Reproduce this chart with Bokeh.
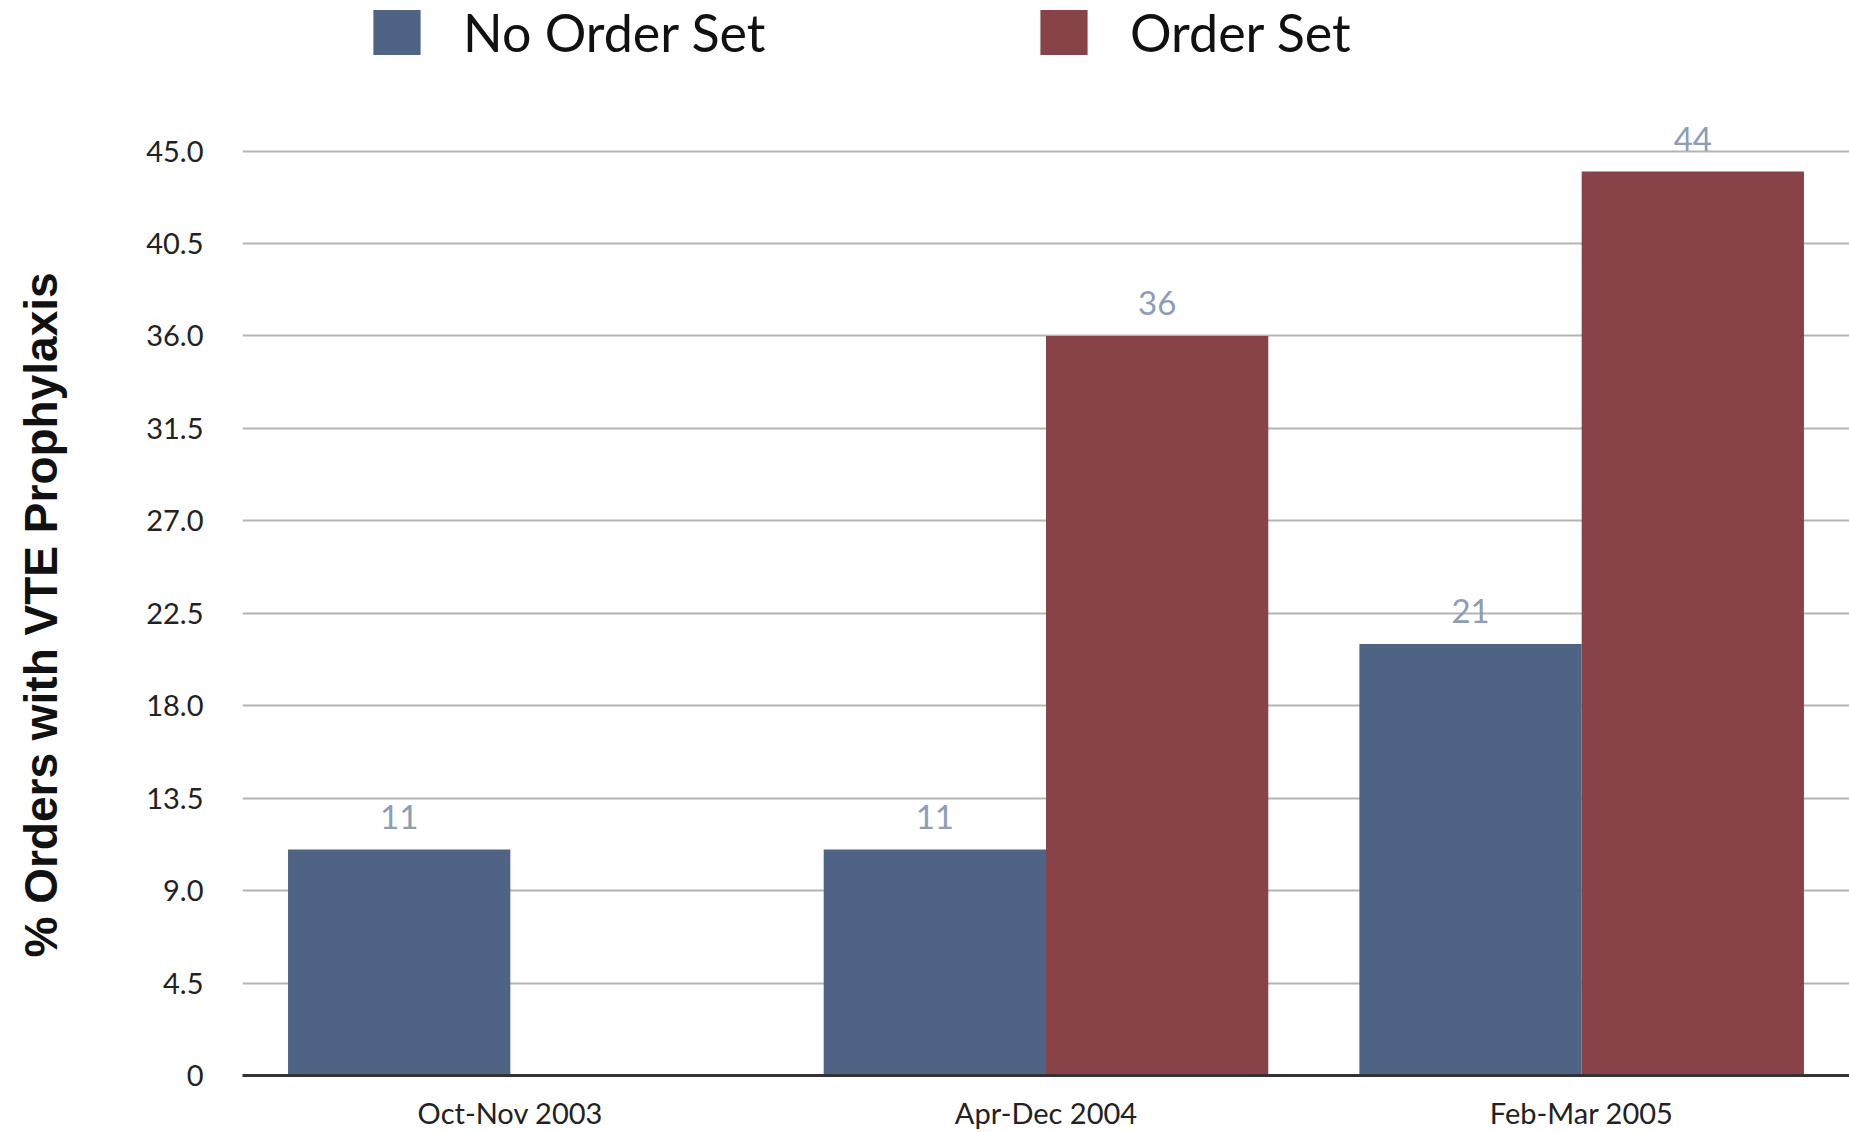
from bokeh.plotting import figure
from bokeh.models import (ColumnDataSource, FactorRange, Range1d, FixedTicker,
                          Legend, LegendItem, LabelSet, Title, LinearAxis)
from bokeh.transform import dodge
from bokeh.core.properties import value
from bokeh.embed import file_html
from bokeh.resources import INLINE

# ---- data ----
categories = ["Oct-Nov 2003", "Apr-Dec 2004", "Feb-Mar 2005"]
series_names = ["No Order Set", "Order Set"]
no_order_set = [11, 11, 21]
order_set = [None, 36, 44]
y_ticks = [0, 4.5, 9.0, 13.5, 18.0, 22.5, 27.0, 31.5, 36.0, 40.5, 45.0]
y_tick_labels = ["0", "4.5", "9.0", "13.5", "18.0", "22.5", "27.0", "31.5", "36.0", "40.5", "45.0"]
y_title = "% Orders with VTE Prophylaxis"

BLUE = "#4f6484"
RED = "#884349"
FONT = "Lato"

W, H = 1849, 1132
BOTTOM = 53
frame_h = H - BOTTOM
px_per_unit = 20.62
y_top = frame_h / px_per_unit

p = figure(width=W, height=H, x_range=FactorRange(factors=categories, range_padding=0),
           y_range=Range1d(0, y_top), output_backend="svg", toolbar_location=None,
           min_border_left=242, min_border_right=0, min_border_top=0,
           min_border_bottom=BOTTOM)
p.outline_line_color = None
p.background_fill_color = "white"


def make_source(vals):
    xs = [c for c, v in zip(categories, vals) if v is not None]
    ys = [v for v in vals if v is not None]
    return ColumnDataSource(dict(x=xs, top=ys, label=[str(v) for v in ys]))


src_a = make_source(no_order_set)
src_b = make_source(order_set)

bw = 0.415
r_a = p.vbar(x=dodge("x", -bw / 2, range=p.x_range), top="top", width=bw, source=src_a,
             fill_color=BLUE, line_color=None)
r_b = p.vbar(x=dodge("x", bw / 2, range=p.x_range), top="top", width=bw, source=src_b,
             fill_color=RED, line_color=None)

for src, off in ((src_a, -bw / 2), (src_b, bw / 2)):
    labels = LabelSet(x=dodge("x", off, range=p.x_range), y="top", text="label", source=src,
                      text_font=value(FONT), text_font_size=value("33px"),
                      text_color=value("#8e9cb6"), text_align=value("center"),
                      text_baseline=value("middle"), y_offset=33)
    p.add_layout(labels)

# axes
p.yaxis.ticker = FixedTicker(ticks=y_ticks)
p.yaxis.major_label_overrides = {t: l for t, l in zip(y_ticks, y_tick_labels)}
p.yaxis.axis_line_color = None
p.yaxis.major_tick_line_color = None
p.yaxis.minor_tick_line_color = None
p.yaxis.major_label_standoff = 33
p.yaxis.major_label_text_font = FONT
p.yaxis.major_label_text_font_size = "29px"
p.yaxis.major_label_text_color = "#222222"

p.xaxis.axis_line_color = "#333333"
p.xaxis.axis_line_width = 3
p.xaxis.major_tick_line_color = None
p.xaxis.minor_tick_line_color = None
p.xaxis.major_label_standoff = 13
p.xaxis.major_label_text_font = FONT
p.xaxis.major_label_text_font_size = "29px"
p.xaxis.major_label_text_color = "#222222"

# blank spacer axis (white tick on white, no labels) so the title sits at the far left
spacer = LinearAxis(ticker=FixedTicker(ticks=[y_ticks[0]]), axis_line_color=None,
                    major_tick_line_color="#ffffff", minor_tick_line_color=None,
                    major_tick_out=66, major_tick_in=0, major_label_standoff=0,
                    major_label_text_color=None)
p.add_layout(spacer, "left")

# y-axis title, placed like the reference (centred on the 0-45 span)
ytitle = Title(text=y_title, align="left", offset=118, standoff=18, vertical_align="top",
               text_font="Liberation Sans", text_font_style="bold",
               text_font_size="46px", text_color="#111111")
p.add_layout(ytitle, "left")

p.xgrid.grid_line_color = None
p.ygrid.ticker = FixedTicker(ticks=y_ticks[1:])
p.ygrid.grid_line_color = "#b4b4b4"
p.ygrid.grid_line_width = 2

# legends: one per item for exact placement
for name, rend, x0 in ((series_names[0], r_a, 367 - 242), (series_names[1], r_b, 1034 - 242)):
    lg = Legend(items=[LegendItem(label=name, renderers=[rend])],
                location=(x0, 1012), orientation="horizontal",
                glyph_width=59, glyph_height=56, label_standoff=37,
                label_text_font=FONT, label_text_font_size="52px",
                label_text_color="#111111", label_height=56,
                padding=0, margin=0, border_line_color=None,
                background_fill_alpha=0, label_text_baseline="middle")
    p.add_layout(lg, "center")

open("out.html", "w").write(file_html(p, INLINE))
